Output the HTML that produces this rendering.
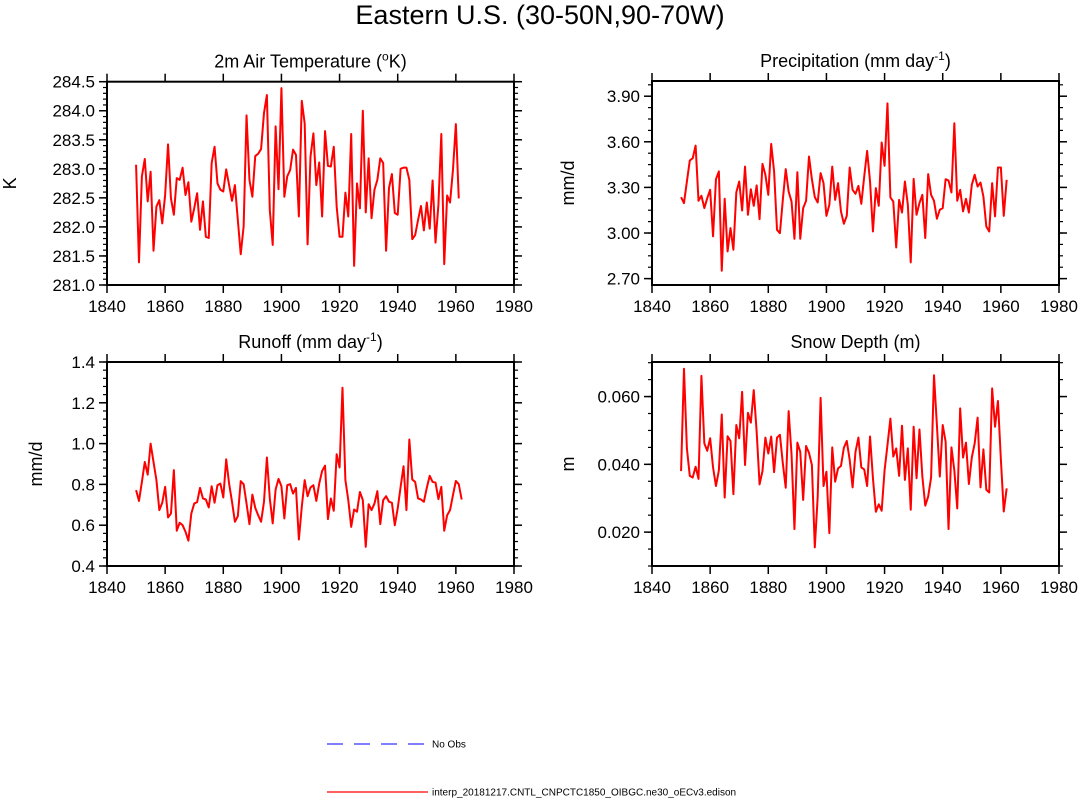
<!DOCTYPE html>
<html><head><meta charset="utf-8"><style>
html,body{margin:0;padding:0;background:#fff;}
svg{display:block;font-family:"Liberation Sans",Arial,sans-serif;}
</style></head><body>
<svg id="fig" width="1080" height="799" viewBox="0 0 1080 799" xmlns="http://www.w3.org/2000/svg">
<text x="540" y="24" font-size="27" text-anchor="middle">Eastern U.S. (30-50N,90-70W)</text>
<g>
<line x1="327" y1="744" x2="428" y2="744" stroke="#3333ff" stroke-width="1.3" stroke-dasharray="16,11"/>
<text x="432" y="747.5" font-size="10">No Obs</text>
<line x1="327" y1="792" x2="428" y2="792" stroke="#ff0000" stroke-width="1.3"/>
<text x="432" y="795.5" font-size="10">interp_20181217.CNTL_CNPCTC1850_OIBGC.ne30_oECv3.edison</text>
</g>
</svg>
<script>
const startYear = 1850;
const xTicks = [1840,1860,1880,1900,1920,1940,1960,1980];
const tempValues = [283.07,281.39,282.87,283.17,282.44,282.95,281.59,282.35,282.46,282.06,282.55,283.42,282.49,282.21,282.84,282.81,283.02,282.55,282.77,282.09,282.32,282.58,281.95,282.44,281.83,281.81,283.10,283.38,282.75,282.64,282.61,282.99,282.72,282.45,282.72,282.12,281.53,282.01,283.92,282.81,282.52,283.22,283.26,283.34,283.96,284.27,282.29,281.69,283.73,282.65,284.39,282.52,282.87,282.98,283.33,283.24,282.18,284.17,283.78,281.70,283.21,283.61,282.72,283.11,282.18,283.65,283.05,283.04,283.38,282.35,281.83,281.83,282.59,282.18,283.60,281.33,282.75,282.32,284.00,282.25,283.18,282.15,282.64,282.81,283.18,283.10,281.59,282.67,282.91,282.24,282.21,283.00,283.02,283.02,282.81,281.79,281.86,282.12,282.36,281.94,282.42,281.97,282.80,281.73,282.38,283.60,281.36,282.54,282.42,282.98,283.77,282.49];
const precValues = [3.236,3.197,3.339,3.477,3.492,3.575,3.212,3.245,3.164,3.229,3.284,2.978,3.354,3.405,2.752,3.225,2.879,3.032,2.890,3.267,3.339,3.148,3.437,3.120,3.288,3.179,3.313,3.091,3.455,3.383,3.251,3.586,3.405,3.021,2.999,3.218,3.420,3.273,3.207,2.962,3.400,2.962,3.164,3.212,3.503,3.354,3.236,3.201,3.394,3.328,3.113,3.186,3.437,3.218,3.328,3.142,3.061,3.113,3.431,3.284,3.258,3.310,3.192,3.372,3.540,3.339,3.010,3.295,3.179,3.595,3.442,3.853,3.234,3.207,2.905,3.218,3.135,3.339,3.186,2.807,3.356,3.120,3.197,3.251,2.967,3.387,3.251,3.212,3.094,3.153,3.164,3.354,3.345,3.267,3.722,3.212,3.284,3.142,3.225,3.135,3.317,3.383,3.306,3.332,3.240,3.043,3.010,3.328,3.109,3.431,3.431,3.113,3.350];
const runoffValues = [0.772,0.719,0.812,0.910,0.848,1.000,0.910,0.821,0.674,0.710,0.788,0.638,0.657,0.870,0.573,0.612,0.600,0.568,0.524,0.657,0.706,0.713,0.783,0.731,0.726,0.687,0.791,0.710,0.796,0.804,0.736,0.923,0.804,0.715,0.617,0.644,0.816,0.801,0.706,0.605,0.750,0.685,0.649,0.617,0.715,0.932,0.731,0.609,0.775,0.827,0.791,0.633,0.796,0.801,0.755,0.783,0.530,0.690,0.821,0.742,0.785,0.796,0.719,0.804,0.866,0.892,0.630,0.731,0.671,0.948,0.883,1.274,0.821,0.723,0.592,0.677,0.666,0.763,0.723,0.494,0.703,0.674,0.706,0.767,0.605,0.723,0.742,0.715,0.710,0.600,0.682,0.788,0.889,0.674,1.020,0.824,0.812,0.731,0.726,0.715,0.783,0.842,0.812,0.809,0.728,0.788,0.573,0.649,0.674,0.747,0.817,0.801,0.726];
const snowValues = [0.0380,0.0682,0.0447,0.0366,0.0361,0.0393,0.0357,0.0661,0.0462,0.0440,0.0477,0.0391,0.0336,0.0382,0.0547,0.0302,0.0483,0.0469,0.0312,0.0516,0.0477,0.0614,0.0398,0.0552,0.0523,0.0619,0.0496,0.0341,0.0380,0.0479,0.0432,0.0482,0.0377,0.0479,0.0487,0.0403,0.0331,0.0557,0.0429,0.0209,0.0464,0.0437,0.0295,0.0454,0.0434,0.0398,0.0155,0.0305,0.0596,0.0336,0.0378,0.0197,0.0450,0.0349,0.0388,0.0395,0.0449,0.0469,0.0413,0.0332,0.0437,0.0479,0.0391,0.0385,0.0336,0.0482,0.0359,0.0260,0.0282,0.0263,0.0382,0.0457,0.0535,0.0423,0.0447,0.0366,0.0514,0.0354,0.0447,0.0266,0.0511,0.0359,0.0503,0.0364,0.0278,0.0305,0.0361,0.0663,0.0516,0.0364,0.0516,0.0467,0.0209,0.0450,0.0382,0.0270,0.0565,0.0420,0.0464,0.0342,0.0420,0.0462,0.0538,0.0332,0.0444,0.0325,0.0317,0.0624,0.0511,0.0587,0.0415,0.0261,0.0329];
const tempTicks = ["281.0","281.5","282.0","282.5","283.0","283.5","284.0","284.5"];
const precTicks = ["2.70","3.00","3.30","3.60","3.90"];
const runoffTicks = ["0.4","0.6","0.8","1.0","1.2","1.4"];
const snowTicks = ["0.020","0.040","0.060"];

const NS = "http://www.w3.org/2000/svg";
const svg = document.getElementById('fig');
function mk(tag, attrs, parent){
  const e = document.createElementNS(NS, tag);
  for (const k in attrs) e.setAttribute(k, attrs[k]);
  (parent||svg).appendChild(e); return e;
}
const panels = [
  {key:'temperature', title:'2m Air Temperature (', sup:'o', tail:'K)', ylab:'K', x0:107, x1:514, y0:81.7, y1:285, ymin:281.0, ymax:284.5, vals:tempValues, ticks:tempTicks, minor:0.1, ylabX:16},
  {key:'precipitation', title:'Precipitation (mm day', sup:'-1', tail:')', ylab:'mm/d', x0:652, x1:1059, y0:81, y1:285, ymin:2.658, ymax:4.0, vals:precValues, ticks:precTicks, minor:0.075, ylabX:574},
  {key:'runoff', title:'Runoff (mm day', sup:'-1', tail:')', ylab:'mm/d', x0:107, x1:514, y0:362, y1:566, ymin:0.4, ymax:1.4, vals:runoffValues, ticks:runoffTicks, minor:0.04, ylabX:42},
  {key:'snow-depth', title:'Snow Depth (m)', sup:'', tail:'', ylab:'m', x0:652, x1:1059, y0:362, y1:566, ymin:0.010, ymax:0.0702, vals:snowValues, ticks:snowTicks, minor:0.005, ylabX:574}
];
panels.forEach(p=>{
  const g = mk('g',{});
  
  
  const xs = v => p.x0 + (v-1840)/(1980-1840)*(p.x1-p.x0);
  const ys = v => p.y1 - (v-p.ymin)/(p.ymax-p.ymin)*(p.y1-p.y0);
  const t = mk('text',{x:(p.x0+p.x1)/2, y:p.y0-14, 'font-size':18, 'text-anchor':'middle'}, g);
  
  
  t.appendChild(document.createTextNode(p.title));
  if (p.sup){ const s = mk('tspan',{dy:-7,'font-size':12},t); s.textContent=p.sup; const r = mk('tspan',{dy:7},t); r.textContent=p.tail; }
  const yl = mk('text',{x:0,y:0,'font-size':18,'text-anchor':'middle',transform:'translate('+p.ylabX+','+((p.y0+p.y1)/2)+') rotate(-90)'}, g);
  
  
  yl.textContent = p.ylab;
  const tk = mk('g',{stroke:'#000','stroke-width':1.5}, g);
  
  
  xTicks.forEach(v=>{
    const x = xs(v);
    mk('line',{x1:x,x2:x,y1:p.y1,y2:p.y1+8},tk);
    mk('line',{x1:x,x2:x,y1:p.y0,y2:p.y0-8},tk);
    const lb = mk('text',{x:x,y:p.y1+27,'font-size':17,'text-anchor':'middle',stroke:'none'},g);
    
    
    lb.textContent = v;
  });
  p.ticks.forEach(s=>{
    const v = parseFloat(s), y = ys(v);
    mk('line',{x1:p.x0-8,x2:p.x0,y1:y,y2:y},tk);
    mk('line',{x1:p.x1,x2:p.x1+8,y1:y,y2:y},tk);
    const lb = mk('text',{x:p.x0-12,y:y+6,'font-size':17,'text-anchor':'end'},g);
    
    
    lb.textContent = s;
  });
  const first = parseFloat(p.ticks[0]);
  for (let v = first - Math.floor((first-p.ymin)/p.minor)*p.minor; v <= p.ymax+1e-9; v += p.minor){
    const y = ys(v); if (y < p.y0-0.5 || y > p.y1+0.5) continue;
    mk('line',{x1:p.x0-4,x2:p.x0,y1:y,y2:y,'stroke-width':1.2},tk);
    mk('line',{x1:p.x1,x2:p.x1+4,y1:y,y2:y,'stroke-width':1.2},tk);
  }
  const box = mk('rect',{x:p.x0,y:p.y0,width:p.x1-p.x0,height:p.y1-p.y0,fill:'none',stroke:'#000','stroke-width':2}, g);
  
  
  const pts = p.vals.map((v,i)=> xs(startYear+i).toFixed(2)+','+ys(v).toFixed(2)).join(' ');
  const line = mk('polyline',{points:pts,fill:'none',stroke:'#ff0000','stroke-width':2,'stroke-linejoin':'round'}, g);
  
  
});
</script>
</body></html>
